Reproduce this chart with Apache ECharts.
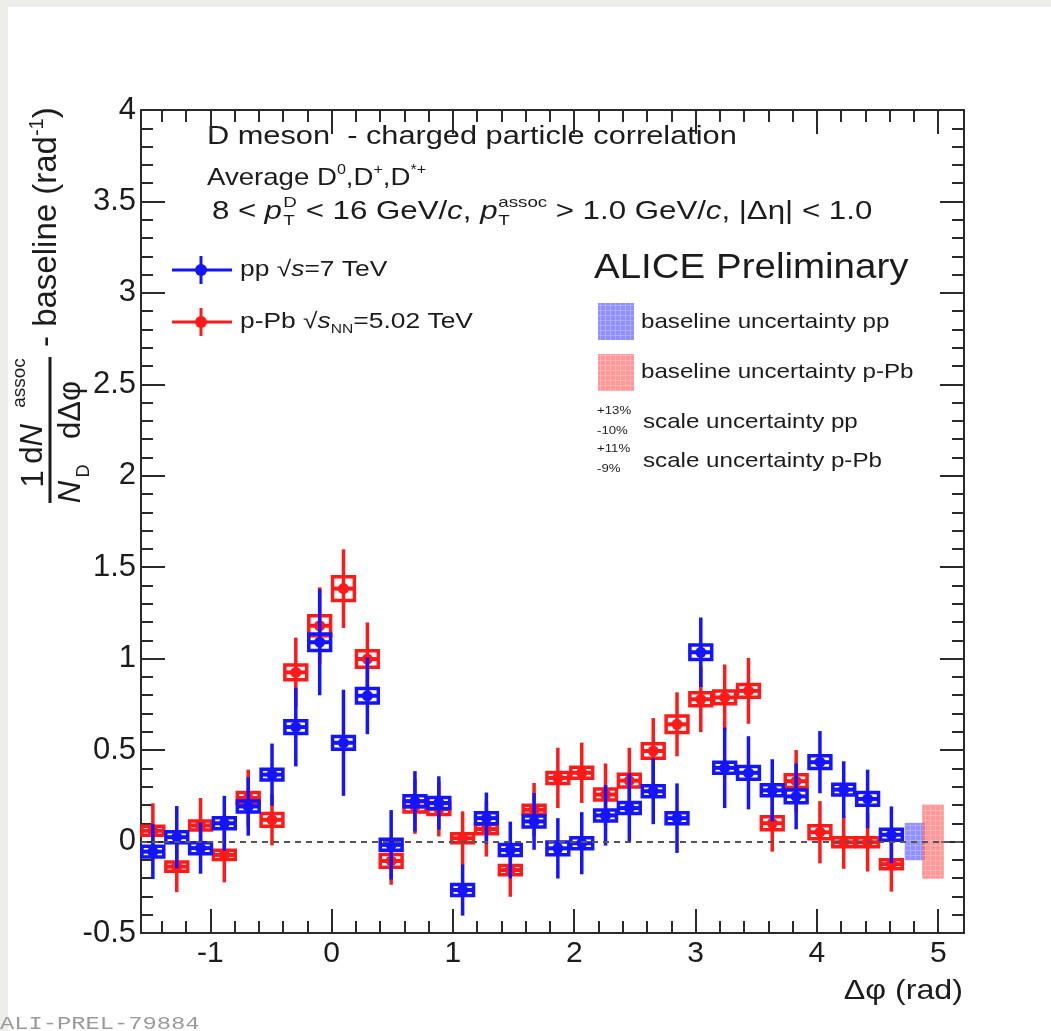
<!DOCTYPE html>
<html>
<head>
<meta charset="utf-8">
<script src="https://cdn.jsdelivr.net/npm/echarts@6/dist/echarts.min.js"></script>
<style>
html,body{margin:0;padding:0;background:#fff;}
#chart{width:1051px;height:1031px;}
</style>
</head>
<body>
<div id="chart"></div>
<script>
// ---------------- DATA ----------------
const phiBins = [-1.473, -1.276, -1.080, -0.884, -0.687, -0.491, -0.295, -0.098,
  0.098, 0.295, 0.491, 0.687, 0.884, 1.080, 1.276, 1.473,
  1.669, 1.865, 2.062, 2.258, 2.454, 2.651, 2.847, 3.043,
  3.240, 3.436, 3.632, 3.829, 4.025, 4.221, 4.418, 4.614];
const binHalfWidth = 0.0982;

const ppValues = [-0.055, 0.024, -0.036, 0.10, 0.192, 0.366, 0.626, 1.09,
  0.54, 0.797, -0.018, 0.22, 0.211, -0.265, 0.128, -0.046,
  0.11, -0.037, -0.009, 0.143, 0.183, 0.275, 0.128, 1.035,
  0.403, 0.376, 0.28, 0.247, 0.434, 0.284, 0.233, 0.037];
const ppStat = [0.15, 0.17, 0.14, 0.15, 0.16, 0.17, 0.215, 0.29,
  0.29, 0.21, 0.19, 0.165, 0.146, 0.14, 0.14, 0.155,
  0.155, 0.165, 0.17, 0.165, 0.19, 0.18, 0.19, 0.19,
  0.22, 0.2, 0.17, 0.18, 0.17, 0.155, 0.16, 0.155];
const ppSyst = [0.03, 0.03, 0.03, 0.03, 0.03, 0.03, 0.035, 0.045,
  0.035, 0.04, 0.03, 0.03, 0.03, 0.03, 0.03, 0.03,
  0.03, 0.035, 0.03, 0.03, 0.03, 0.03, 0.03, 0.04,
  0.03, 0.035, 0.03, 0.035, 0.035, 0.03, 0.035, 0.03];

const pPbValues = [0.059, -0.137, 0.088, -0.073, 0.238, 0.119, 0.925, 1.18,
  1.383, 0.998, -0.106, 0.192, 0.178, 0.018, 0.068, -0.156,
  0.174, 0.348, 0.376, 0.257, 0.333, 0.495, 0.641, 0.778,
  0.788, 0.824, 0.10, 0.33, 0.051, -0.004, -0.004, -0.124];
const pPbStat = [0.15, 0.14, 0.15, 0.15, 0.155, 0.14, 0.19, 0.21,
  0.215, 0.2, 0.13, 0.15, 0.15, 0.147, 0.15, 0.146,
  0.146, 0.165, 0.165, 0.17, 0.18, 0.18, 0.175, 0.18,
  0.18, 0.18, 0.155, 0.17, 0.17, 0.145, 0.16, 0.15];
const pPbSyst = [0.025, 0.025, 0.025, 0.025, 0.03, 0.035, 0.04, 0.055,
  0.065, 0.045, 0.035, 0.03, 0.03, 0.025, 0.025, 0.025,
  0.025, 0.03, 0.03, 0.03, 0.035, 0.04, 0.045, 0.035,
  0.035, 0.035, 0.035, 0.035, 0.035, 0.025, 0.025, 0.025];

const baselineNames = ['pp', 'p-Pb'];
const baselineX = [4.812, 4.957];
const baselineHalfWidth = 0.085;
const baselineUnc = [0.10, 0.20];

const xMajorTicks = [-1, 0, 1, 2, 3, 4, 5];
const xMinorTicks = [-1.4, -1.2, -0.8, -0.6, -0.4, -0.2, 0.2, 0.4, 0.6, 0.8,
  1.2, 1.4, 1.6, 1.8, 2.2, 2.4, 2.6, 2.8, 3.2, 3.4, 3.6, 3.8,
  4.2, 4.4, 4.6, 4.8];
const xMin = -1.5708, xMax = 5.2124;
const yMin = -0.5, yMax = 4, yStep = 0.5;

// ---------------- STYLE ----------------
const FONT = 'Liberation Sans';
const BLUE = '#1414ff';
const RED = '#ff1a1a';
const AX = '#2a2a2a';
const TXT = '#1c1c1c';

function hatch(base, line) {
  const c = document.createElement('canvas');
  c.width = 5; c.height = 5;
  const g = c.getContext('2d');
  g.fillStyle = base; g.fillRect(0, 0, 5, 5);
  g.fillStyle = line; g.fillRect(0, 0, 5, 1); g.fillRect(0, 0, 1, 5);
  return c;
}
const blueHatch = {image: hatch('rgba(105,105,255,0.75)', 'rgba(180,180,255,0.75)'), repeat: 'repeat'};
const redHatch = {image: hatch('rgba(255,110,110,0.7)', 'rgba(255,185,185,0.7)'), repeat: 'repeat'};

function pointRender(color) {
  return function (params, api) {
    const x = api.value(0), y = api.value(1), e = api.value(2), s = api.value(3);
    const c = api.coord([x, y]);
    const l = api.coord([x - binHalfWidth, y])[0];
    const r = api.coord([x + binHalfWidth, y])[0];
    const top = api.coord([x, y + e])[1], bot = api.coord([x, y - e])[1];
    const st = api.coord([x, y + s])[1], sb = api.coord([x, y - s])[1];
    return {
      type: 'group',
      children: [
        {type: 'line', shape: {x1: c[0], y1: top, x2: c[0], y2: bot}, style: {stroke: color, lineWidth: 3.5}},
        {type: 'line', shape: {x1: l, y1: c[1], x2: r, y2: c[1]}, style: {stroke: color, lineWidth: 4}},
        {type: 'rect', shape: {x: l + 1, y: st, width: r - l - 2, height: Math.max(sb - st, 5)}, style: {fill: 'none', stroke: color, lineWidth: 3.5}},
        {type: 'circle', shape: {cx: c[0], cy: c[1], r: 5.5}, style: {fill: color}}
      ]
    };
  };
}

function baselineRender(params, api) {
  const i = params.dataIndex;
  const x = api.value(0), u = api.value(1);
  const p1 = api.coord([x - baselineHalfWidth, u]);
  const p2 = api.coord([x + baselineHalfWidth, -u]);
  return {
    type: 'rect',
    shape: {x: p1[0], y: p1[1], width: p2[0] - p1[0], height: p2[1] - p1[1]},
    style: {fill: i === 0 ? blueHatch : redHatch, stroke: i === 0 ? 'rgba(120,120,255,0.6)' : 'rgba(255,120,120,0.6)', lineWidth: 1}
  };
}

const ppData = phiBins.map((x, i) => [x, ppValues[i], ppStat[i], ppSyst[i]]);
const pPbData = phiBins.map((x, i) => [x, pPbValues[i], pPbStat[i], pPbSyst[i]]);
const baselineData = baselineX.map((x, i) => [x, baselineUnc[i], baselineNames[i]]);

function xAxisCfg(pos, ticks, len, showLine, showLabel) {
  return {
    type: 'value', position: pos, min: xMin, max: xMax, gridIndex: 0,
    axisLine: {show: showLine, onZero: false, lineStyle: {color: AX, width: 2}},
    axisTick: {show: true, inside: true, length: len, customValues: ticks, lineStyle: {color: AX, width: 2}},
    axisLabel: {show: showLabel, customValues: xMajorTicks, fontFamily: FONT, fontSize: 30, color: TXT, margin: 6},
    splitLine: {show: false}, minorTick: {show: false}
  };
}
function yAxisCfg(pos, showLabel) {
  return {
    type: 'value', position: pos, min: yMin, max: yMax, interval: yStep, gridIndex: 0,
    axisLine: {show: true, onZero: false, lineStyle: {color: AX, width: 2}},
    axisTick: {show: true, inside: true, length: 24, lineStyle: {color: AX, width: 2}},
    minorTick: {show: true, splitNumber: 5, length: 12, lineStyle: {color: AX, width: 2}},
    axisLabel: {show: showLabel, fontFamily: FONT, fontSize: 31, color: TXT, margin: 5},
    splitLine: {show: false}
  };
}

function T(x, y, text, size, opts) {
  opts = opts || {};
  const el = {type: 'text', x: x, y: y, style: {text: text, fontFamily: FONT, fontSize: size, fill: TXT, verticalAlign: 'middle', align: opts.align || 'left'}};
  if (opts.italic) el.style.fontStyle = 'italic';
  if (opts.rich) el.style.rich = opts.rich;
  if (opts.scaleX) el.scaleX = opts.scaleX;
  if (opts.fill) el.style.fill = opts.fill;
  if (opts.family) el.style.fontFamily = opts.family;
  return el;
}

function richSet(size, sup) {
  return {
    n: {fontFamily: FONT, fontSize: size, fill: TXT, lineHeight: size + 6, verticalAlign: 'middle'},
    i: {fontFamily: FONT, fontSize: size, fontStyle: 'italic', fill: TXT, lineHeight: size + 6, verticalAlign: 'middle'},
    sup: {fontFamily: FONT, fontSize: sup, fill: TXT, lineHeight: sup, verticalAlign: 'top'},
    sub: {fontFamily: FONT, fontSize: sup, fill: TXT, lineHeight: sup, verticalAlign: 'bottom'}
  };
}

// ---- y axis title (rotated group) ----
const yTitle = {
  type: 'group', x: 0, y: 520, rotation: Math.PI / 2,
  children: [
    T(41, 34, '1', 31, {align: 'center'}),
    T(76, 33, '{n|d}{i|N}', 31, {align: 'center', rich: richSet(31, 18)}),
    T(137, 20, 'assoc', 19, {align: 'center'}),
    {type: 'line', shape: {x1: 17, y1: 50, x2: 163, y2: 50}, style: {stroke: TXT, lineWidth: 3}},
    T(28, 71, 'N', 31, {align: 'center', italic: true}),
    T(49, 84, 'D', 18, {align: 'center'}),
    T(110, 71, 'dΔφ', 31, {align: 'center'}),
    T(173, 47, '{n|- baseline (rad}{sup|-1}{n|)}', 33, {rich: richSet(33, 20)})
  ]
};

// ---- line 3 with stacked sub/sup ----
const line3 = {
  type: 'group', x: 212, y: 212, scaleX: 1.25,
  children: [
    T(0, 0, '8 < ', 25),
    T(42, 0, 'p', 25, {italic: true}),
    T(57, -9, 'D', 15),
    T(57, 9, 'T', 15),
    T(68, 0, ' < 16 GeV/', 25),
    T(188, 0, 'c', 25, {italic: true}),
    T(200.5, 0, ', ', 25),
    T(214.5, 0, 'p', 25, {italic: true}),
    T(229, -9, 'assoc', 15),
    T(229, 9, 'T', 15),
    T(268, 0, ' > 1.0 GeV/', 25),
    T(395, 0, 'c', 25, {italic: true}),
    T(407.5, 0, ', |Δη| < 1.0', 25)
  ]
};

const graphics = [
  {type: 'rect', shape: {x: 0, y: 0, width: 1051, height: 7}, style: {fill: '#ededea'}, silent: true},
  {type: 'rect', shape: {x: 0, y: 0, width: 8, height: 1031}, style: {fill: '#ededea'}, silent: true},
  yTitle,
  T(207, 137, 'D meson  - charged particle correlation', 25, {scaleX: 1.23}),
  T(207, 178, '{n|Average D}{sup|0}{n|,D}{sup|+}{n|,D}{sup|*+}', 24, {scaleX: 1.15, rich: richSet(24, 14)}),
  line3,
  {type: 'line', shape: {x1: 172, y1: 270, x2: 232, y2: 270}, style: {stroke: BLUE, lineWidth: 3}},
  {type: 'line', shape: {x1: 201, y1: 256, x2: 201, y2: 284}, style: {stroke: BLUE, lineWidth: 3}},
  {type: 'circle', shape: {cx: 201, cy: 270, r: 6}, style: {fill: BLUE}},
  {type: 'line', shape: {x1: 172, y1: 322, x2: 232, y2: 322}, style: {stroke: RED, lineWidth: 3}},
  {type: 'line', shape: {x1: 201, y1: 308, x2: 201, y2: 336}, style: {stroke: RED, lineWidth: 3}},
  {type: 'circle', shape: {cx: 201, cy: 322, r: 6}, style: {fill: RED}},
  T(240, 270, '{n|pp }{n|√}{i|s}{n|=7 TeV}', 22, {scaleX: 1.2, rich: richSet(22, 13)}),
  T(240, 322, '{n|p-Pb }{n|√}{i|s}{sub|NN}{n|=5.02 TeV}', 22, {scaleX: 1.2, rich: richSet(22, 13)}),
  T(594, 268, 'ALICE Preliminary', 35, {scaleX: 1.1}),
  {type: 'rect', shape: {x: 598, y: 303, width: 36, height: 37}, style: {fill: blueHatch}},
  {type: 'rect', shape: {x: 598, y: 354, width: 36, height: 37}, style: {fill: redHatch}},
  T(641, 322, 'baseline uncertainty pp', 21, {scaleX: 1.15}),
  T(641, 372, 'baseline uncertainty p-Pb', 21, {scaleX: 1.15}),
  T(597, 411, '+13%', 11, {scaleX: 1.2}),
  T(597, 431, '-10%', 11, {scaleX: 1.2}),
  T(643, 422, 'scale uncertainty pp', 21, {scaleX: 1.15}),
  T(597, 449, '+11%', 11, {scaleX: 1.2}),
  T(597, 469, '-9%', 11, {scaleX: 1.2}),
  T(643, 461, 'scale uncertainty p-Pb', 21, {scaleX: 1.15}),
  T(963, 991, 'Δφ (rad)', 28, {align: 'right', scaleX: 1.15}),
  T(0, 1024, 'ALI-PREL-79884', 19, {scaleX: 1.25, fill: '#9a9a9a', family: 'Liberation Mono'})
];

const chart = echarts.init(document.getElementById('chart'), null, {renderer: 'canvas'});
chart.setOption({
  backgroundColor: '#ffffff',
  animation: false,
  grid: {left: 141, top: 110, width: 823, height: 823, containLabel: false},
  xAxis: [
    xAxisCfg('bottom', xMajorTicks, 24, true, true),
    xAxisCfg('bottom', xMinorTicks, 12, false, false),
    xAxisCfg('top', xMajorTicks, 24, true, false),
    xAxisCfg('top', xMinorTicks, 12, false, false)
  ],
  yAxis: [yAxisCfg('left', true), yAxisCfg('right', false)],
  graphic: graphics,
  series: [
    {
      type: 'line', data: [], xAxisIndex: 0, yAxisIndex: 0, silent: true,
      markLine: {silent: true, symbol: 'none', label: {show: false},
        lineStyle: {color: '#555', width: 2, type: [6, 5]}, data: [{yAxis: 0}]}
    },
    {type: 'custom', name: 'baseline', xAxisIndex: 0, yAxisIndex: 0, data: baselineData, renderItem: baselineRender, z: 2},
    {type: 'custom', name: 'p-Pb', xAxisIndex: 0, yAxisIndex: 0, data: pPbData, renderItem: pointRender(RED), z: 3},
    {type: 'custom', name: 'pp', xAxisIndex: 0, yAxisIndex: 0, data: ppData, renderItem: pointRender(BLUE), z: 4}
  ]
});
</script>
</body>
</html>
